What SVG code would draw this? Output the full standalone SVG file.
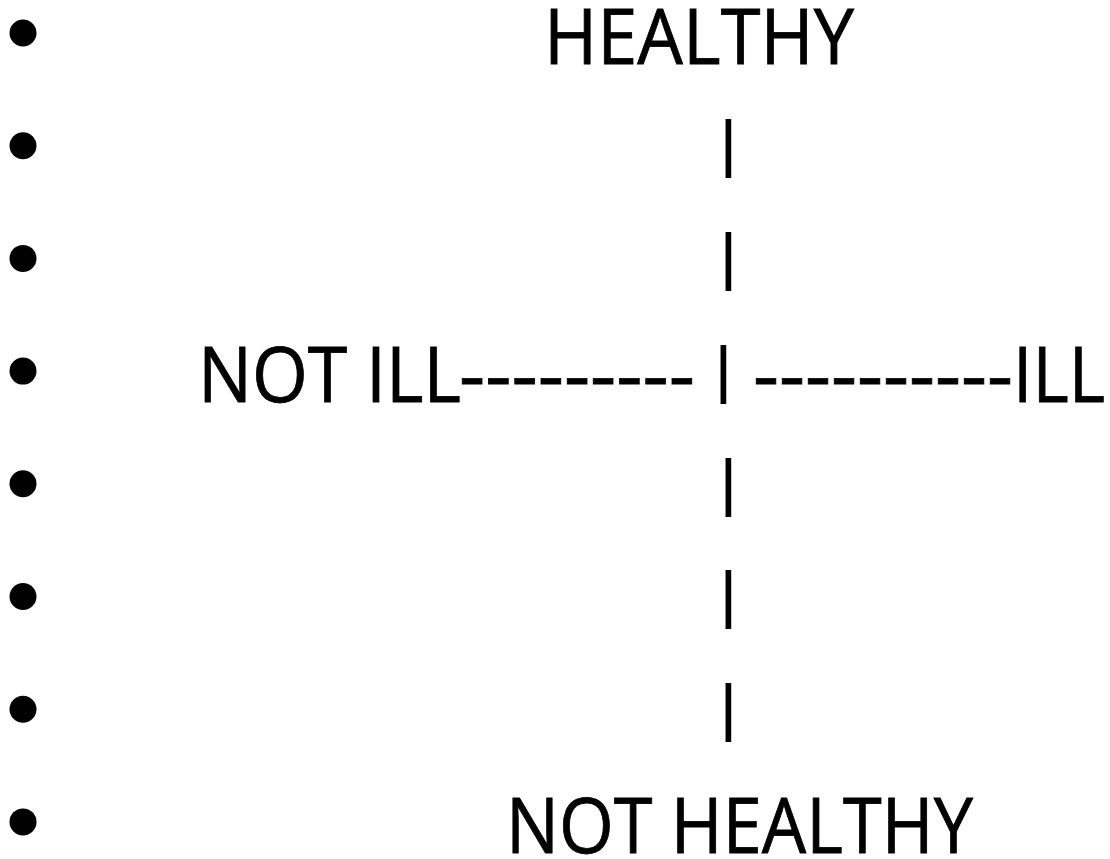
<svg xmlns="http://www.w3.org/2000/svg" width="1110" height="859" viewBox="0 0 1110 859">
<style>
.t{font-family:"Open Sans","Noto Sans",sans-serif;font-size:76px;fill:#000;stroke:#000;stroke-width:0.8}
.bar{font-family:"Open Sans","Noto Sans",sans-serif;font-size:57px;fill:#000;stroke:#000;stroke-width:1.8;text-anchor:middle}
.b{fill:#000}
</style>
<rect width="1110" height="859" fill="#fff"/>
<g id="bullets">
<circle class="b" cx="23" cy="33" r="13.5"/>
<circle class="b" cx="23" cy="145.7" r="13.5"/>
<circle class="b" cx="23" cy="258.4" r="13.5"/>
<circle class="b" cx="23" cy="371.1" r="13.5"/>
<circle class="b" cx="23" cy="483.8" r="13.5"/>
<circle class="b" cx="23" cy="596.5" r="13.5"/>
<circle class="b" cx="23" cy="709.2" r="13.5"/>
<circle class="b" cx="23" cy="821.9" r="13.5"/>
</g>
<g id="healthy"><text class="t" x="544" y="64" textLength="310" lengthAdjust="spacingAndGlyphs">HEALTHY</text></g>
<g id="connectors">
<text class="bar" x="728.5" y="163">|</text>
<text class="bar" x="728.5" y="276">|</text>
<text class="bar" x="728.5" y="501.5">|</text>
<text class="bar" x="728.5" y="614">|</text>
<text class="bar" x="728.5" y="727">|</text>
</g>
<g id="row4">
<text class="t" x="198" y="402" textLength="263" lengthAdjust="spacingAndGlyphs">NOT ILL</text>
<text class="t" x="459" y="402" textLength="236" lengthAdjust="spacingAndGlyphs">---------</text>
<text class="bar" x="723.5" y="388.5">|</text>
<text class="t" x="753" y="402" textLength="260" lengthAdjust="spacingAndGlyphs">----------</text>
<text class="t" x="1013" y="402" textLength="92" lengthAdjust="spacingAndGlyphs">ILL</text>
</g>
<g id="not-healthy"><text class="t" x="506" y="853" textLength="467" lengthAdjust="spacingAndGlyphs">NOT HEALTHY</text></g>
</svg>
